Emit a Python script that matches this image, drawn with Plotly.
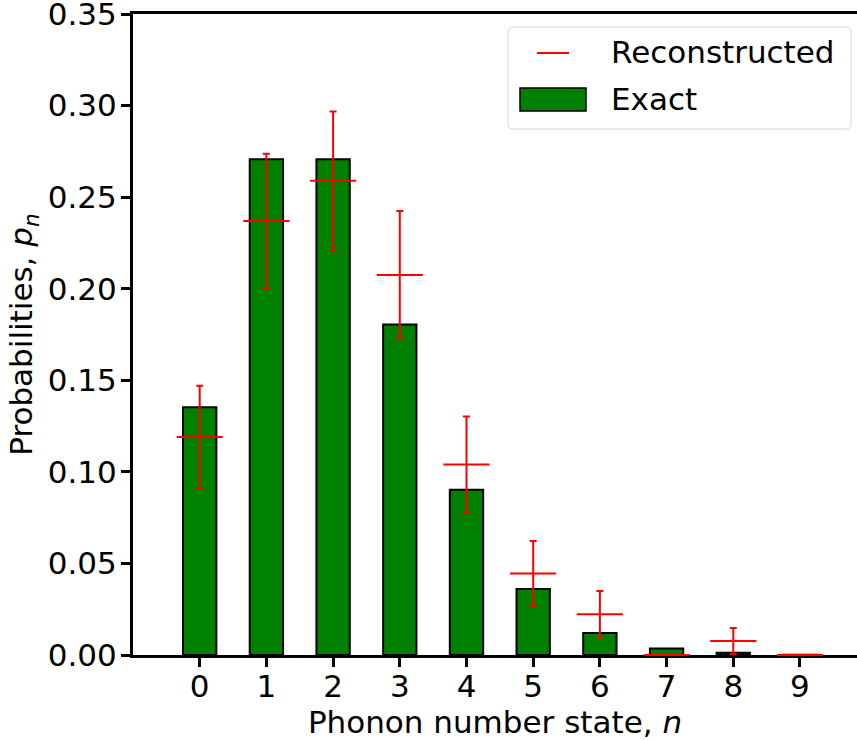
import plotly.graph_objects as go

# ---- data ----
states = [0, 1, 2, 3, 4, 5, 6, 7, 8, 9]
exact = [0.1353, 0.2707, 0.2707, 0.1804, 0.0902, 0.0361, 0.0120, 0.0035, 0.0012, 0.0002]
reconstructed = [0.119, 0.237, 0.259, 0.2075, 0.104, 0.0445, 0.0223, 0.0, 0.0076, 0.0]
recon_err = [0.028, 0.0367, 0.0378, 0.035, 0.0262, 0.0178, 0.0127, 0.0, 0.0072, 0.0]
ytick_vals = [0.0, 0.05, 0.10, 0.15, 0.20, 0.25, 0.30, 0.35]

W, H = 857, 740
L, R, T, B = 133, 0, 14, 85
FONT = "DejaVu Sans"
FS = 31

fig = go.Figure()
fig.add_trace(go.Bar(
    x=states, y=exact, width=0.5, name="Exact",
    marker=dict(color="#008000", line=dict(color="black", width=2)),
    showlegend=False,
))
fig.add_trace(go.Scatter(
    x=states, y=reconstructed, mode="markers", name="Reconstructed",
    marker=dict(symbol="line-ew", size=33, color="red", line=dict(color="red", width=2)),
    error_y=dict(type="data", array=recon_err, visible=True, color="red", thickness=2, width=3.5),
    cliponaxis=False, showlegend=False,
))

# ---- manual legend (pixel -> paper conversion) ----
pw, ph = W - L - R, H - T - B
def px(x):
    return (x - L) / pw
def py(y):
    return (H - B - y) / ph

x0, x1, y0, y1, r = 508, 851, 27, 129, 5
path = (f"M {px(x0+r)},{py(y0)} L {px(x1-r)},{py(y0)} Q {px(x1)},{py(y0)} {px(x1)},{py(y0+r)} "
        f"L {px(x1)},{py(y1-r)} Q {px(x1)},{py(y1)} {px(x1-r)},{py(y1)} "
        f"L {px(x0+r)},{py(y1)} Q {px(x0)},{py(y1)} {px(x0)},{py(y1-r)} "
        f"L {px(x0)},{py(y0+r)} Q {px(x0)},{py(y0)} {px(x0+r)},{py(y0)} Z")
shapes = [
    dict(type="path", xref="paper", yref="paper", path=path,
         line=dict(color="#d6d6d6", width=1), fillcolor="rgba(255,255,255,0.8)", layer="above"),
    dict(type="line", xref="paper", yref="paper", x0=px(537), x1=px(569), y0=py(53), y1=py(53),
         line=dict(color="red", width=2), layer="above"),
    dict(type="rect", xref="paper", yref="paper", x0=px(520), x1=px(586), y0=py(111), y1=py(88),
         line=dict(color="black", width=1.5), fillcolor="#008000", layer="above"),
]
annotations = [
    dict(xref="paper", yref="paper", x=px(609), y=py(52), text="Reconstructed", showarrow=False,
         xanchor="left", yanchor="middle", font=dict(family=FONT, size=FS, color="black")),
    dict(xref="paper", yref="paper", x=px(609), y=py(99), text="Exact", showarrow=False,
         xanchor="left", yanchor="middle", font=dict(family=FONT, size=FS, color="black")),
]

fig.update_layout(
    width=W, height=H,
    margin=dict(l=L, r=R, t=T, b=B, pad=0, autoexpand=False),
    paper_bgcolor="white", plot_bgcolor="white",
    font=dict(family=FONT, size=FS, color="black"),
    shapes=shapes, annotations=annotations,
    showlegend=False,
    xaxis=dict(
        range=[-1.0, 9.855], tickvals=states, ticktext=[str(s) for s in states],
        showline=True, linecolor="black", linewidth=3, mirror=True,
        ticks="outside", ticklen=9, tickwidth=2.5, tickcolor="black",
        showgrid=False, zeroline=False, layer="below traces", automargin=False,
        ticklabelstandoff=-7,
        title=dict(text="Phonon number state, <i>n</i>", font=dict(family=FONT, size=FS), standoff=2),
        tickfont=dict(family=FONT, size=FS),
    ),
    yaxis=dict(
        range=[0, 0.35], tickvals=ytick_vals, tickformat=".2f",
        showline=True, linecolor="black", linewidth=3,
        ticks="outside", ticklen=9, tickwidth=2.5, tickcolor="black",
        showgrid=False, zeroline=False, layer="below traces", automargin=False,
        ticklabeloverflow="allow", ticklabelstandoff=-2,
        title=dict(text="Probabilities, <i>p</i><sub><i>n</i></sub>", font=dict(family=FONT, size=FS), standoff=6),
        tickfont=dict(family=FONT, size=FS),
    ),
)

fig.write_html("out.html")
